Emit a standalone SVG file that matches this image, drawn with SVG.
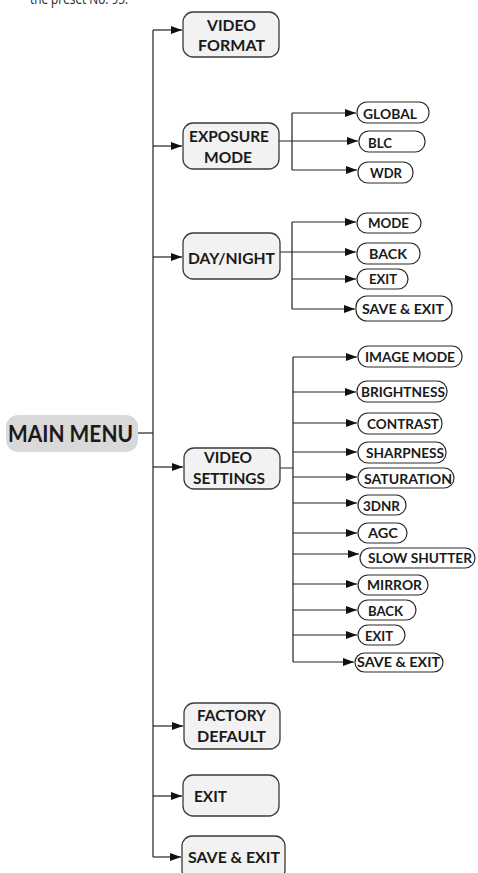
<svg xmlns="http://www.w3.org/2000/svg" width="478" height="873" viewBox="0 0 478 873">
<style>
.t{font-family:Lato,"Open Sans","Liberation Sans",sans-serif;font-weight:700;fill:#1a1a1a}
.m{font-size:16px}
.s{font-size:14px}
.c{text-anchor:middle}
.mb{fill:#f2f2f2;stroke:#3a3a3a;stroke-width:1.3}
.sb{fill:#ffffff;stroke:#2a2a2a;stroke-width:1.2}
.ln{fill:none;stroke:#222;stroke-width:1.2}
</style>
<defs>
<marker id="ah" markerUnits="userSpaceOnUse" markerWidth="11" markerHeight="8" refX="11" refY="4" orient="auto">
<path d="M0,0 L11,4 L0,8 z" fill="#111"/>
</marker>
</defs>
<rect width="478" height="873" fill="#ffffff"/>
<text x="30" y="4" font-family="'Open Sans','Noto Sans',sans-serif" font-size="15" fill="#222" textLength="98" lengthAdjust="spacingAndGlyphs">the preset No. 95.</text>

<g id="connectors">
<path class="ln" d="M153,30 V857"/>
<path class="ln" d="M138,433 H153"/>
<path class="ln" d="M153,30 H182" marker-end="url(#ah)"/>
<path class="ln" d="M153,146 H182" marker-end="url(#ah)"/>
<path class="ln" d="M153,257 H182" marker-end="url(#ah)"/>
<path class="ln" d="M153,467 H183" marker-end="url(#ah)"/>
<path class="ln" d="M153,726 H183" marker-end="url(#ah)"/>
<path class="ln" d="M153,796 H182" marker-end="url(#ah)"/>
<path class="ln" d="M153,857 H181" marker-end="url(#ah)"/>

<path class="ln" d="M279,141 H292 M292,113 V170"/>
<path class="ln" d="M292,113 H356" marker-end="url(#ah)"/>
<path class="ln" d="M292,141 H358" marker-end="url(#ah)"/>
<path class="ln" d="M292,170 H357" marker-end="url(#ah)"/>

<path class="ln" d="M280,252 H292 M292,222 V309"/>
<path class="ln" d="M292,222 H356" marker-end="url(#ah)"/>
<path class="ln" d="M292,252 H356" marker-end="url(#ah)"/>
<path class="ln" d="M292,279 H356" marker-end="url(#ah)"/>
<path class="ln" d="M292,309 H355" marker-end="url(#ah)"/>

<path class="ln" d="M280,468 H293 M293,357 V662"/>
<path class="ln" d="M293,357 H357" marker-end="url(#ah)"/>
<path class="ln" d="M293,392 H356" marker-end="url(#ah)"/>
<path class="ln" d="M293,423 H357" marker-end="url(#ah)"/>
<path class="ln" d="M293,452 H357" marker-end="url(#ah)"/>
<path class="ln" d="M293,477 H357" marker-end="url(#ah)"/>
<path class="ln" d="M293,503 H357" marker-end="url(#ah)"/>
<path class="ln" d="M293,533 H357" marker-end="url(#ah)"/>
<path class="ln" d="M293,554 H359" marker-end="url(#ah)"/>
<path class="ln" d="M293,584 H357" marker-end="url(#ah)"/>
<path class="ln" d="M293,610 H357" marker-end="url(#ah)"/>
<path class="ln" d="M293,635 H357" marker-end="url(#ah)"/>
<path class="ln" d="M293,662 H354" marker-end="url(#ah)"/>
</g>

<g id="main-menu">
<rect x="6" y="415" width="132" height="37" rx="12" fill="#d9d9d9"/>
<text class="t" x="8" y="442" font-size="22" textLength="125" lengthAdjust="spacingAndGlyphs">MAIN MENU</text>
</g>

<g id="video-format">
<rect class="mb" x="183" y="12" width="96" height="45" rx="10"/>
<text class="t m c" x="231.5" y="31" textLength="49" lengthAdjust="spacingAndGlyphs">VIDEO</text>
<text class="t m c" x="231.5" y="51" textLength="67" lengthAdjust="spacingAndGlyphs">FORMAT</text>
</g>
<g id="exposure-mode">
<rect class="mb" x="183" y="123" width="96" height="46" rx="10"/>
<text class="t m c" x="229" y="142" textLength="80" lengthAdjust="spacingAndGlyphs">EXPOSURE</text>
<text class="t m c" x="228" y="163" textLength="48" lengthAdjust="spacingAndGlyphs">MODE</text>
</g>
<g id="day-night">
<rect class="mb" x="183" y="233" width="97" height="46" rx="10"/>
<text class="t m c" x="231.5" y="264" textLength="87" lengthAdjust="spacingAndGlyphs">DAY/NIGHT</text>
</g>
<g id="video-settings">
<rect class="mb" x="184" y="448" width="96" height="41" rx="10"/>
<text class="t m c" x="228" y="463" textLength="48" lengthAdjust="spacingAndGlyphs">VIDEO</text>
<text class="t m c" x="229" y="484" textLength="72" lengthAdjust="spacingAndGlyphs">SETTINGS</text>
</g>
<g id="factory-default">
<rect class="mb" x="184" y="703" width="96" height="46" rx="10"/>
<text class="t m c" x="231.5" y="721" textLength="69" lengthAdjust="spacingAndGlyphs">FACTORY</text>
<text class="t m c" x="231.5" y="742" textLength="69" lengthAdjust="spacingAndGlyphs">DEFAULT</text>
</g>
<g id="exit-main">
<rect class="mb" x="183" y="775" width="96" height="41" rx="10"/>
<text class="t m" x="194" y="802" textLength="33" lengthAdjust="spacingAndGlyphs">EXIT</text>
</g>
<g id="save-exit-main">
<rect class="mb" x="182" y="836" width="103" height="44" rx="10"/>
<text class="t m" x="188" y="863" textLength="92" lengthAdjust="spacingAndGlyphs">SAVE &amp; EXIT</text>
</g>

<g id="exp-global">
<rect class="sb" x="357" y="102" width="72" height="21" rx="10"/>
<text class="t s c" x="390" y="119" textLength="54" lengthAdjust="spacingAndGlyphs">GLOBAL</text>
</g>
<g id="exp-blc">
<rect class="sb" x="359" y="131" width="66" height="21" rx="10"/>
<text class="t s" x="368" y="148" textLength="24" lengthAdjust="spacingAndGlyphs">BLC</text>
</g>
<g id="exp-wdr">
<rect class="sb" x="358" y="162" width="55" height="21" rx="10"/>
<text class="t s c" x="386" y="177.5" textLength="32" lengthAdjust="spacingAndGlyphs">WDR</text>
</g>

<g id="dn-mode">
<rect class="sb" x="357" y="213" width="64" height="20" rx="10"/>
<text class="t s c" x="388.5" y="228" textLength="41" lengthAdjust="spacingAndGlyphs">MODE</text>
</g>
<g id="dn-back">
<rect class="sb" x="357" y="243" width="63" height="21" rx="10"/>
<text class="t s c" x="388" y="258.5" textLength="38" lengthAdjust="spacingAndGlyphs">BACK</text>
</g>
<g id="dn-exit">
<rect class="sb" x="357" y="269" width="51" height="20" rx="10"/>
<text class="t s c" x="383" y="284" textLength="28" lengthAdjust="spacingAndGlyphs">EXIT</text>
</g>
<g id="dn-save-exit">
<rect class="sb" x="356" y="296" width="96" height="25" rx="11"/>
<text class="t s c" x="403" y="314" textLength="82" lengthAdjust="spacingAndGlyphs">SAVE &amp; EXIT</text>
</g>

<g id="vs-image-mode">
<rect class="sb" x="358" y="346" width="104" height="21" rx="10"/>
<text class="t s c" x="410" y="362" textLength="90" lengthAdjust="spacingAndGlyphs">IMAGE MODE</text>
</g>
<g id="vs-brightness">
<rect class="sb" x="357" y="381" width="90" height="21" rx="10"/>
<text class="t s c" x="403" y="397" textLength="84" lengthAdjust="spacingAndGlyphs">BRIGHTNESS</text>
</g>
<g id="vs-contrast">
<rect class="sb" x="358" y="413" width="84" height="21" rx="10"/>
<text class="t s c" x="403" y="428.5" textLength="72" lengthAdjust="spacingAndGlyphs">CONTRAST</text>
</g>
<g id="vs-sharpness">
<rect class="sb" x="358" y="442" width="88" height="21" rx="10"/>
<text class="t s c" x="405" y="457.5" textLength="78" lengthAdjust="spacingAndGlyphs">SHARPNESS</text>
</g>
<g id="vs-saturation">
<rect class="sb" x="358" y="468" width="96" height="20" rx="10"/>
<text class="t s c" x="408" y="484" textLength="88" lengthAdjust="spacingAndGlyphs">SATURATION</text>
</g>
<g id="vs-3dnr">
<rect class="sb" x="358" y="495" width="48" height="20" rx="10"/>
<text class="t s c" x="381.5" y="510.5" textLength="37" lengthAdjust="spacingAndGlyphs">3DNR</text>
</g>
<g id="vs-agc">
<rect class="sb" x="358" y="523" width="49" height="20" rx="10"/>
<text class="t s c" x="383" y="538" textLength="30" lengthAdjust="spacingAndGlyphs">AGC</text>
</g>
<g id="vs-slow-shutter">
<rect class="sb" x="360" y="548" width="115" height="20" rx="10"/>
<text class="t s c" x="420" y="563" textLength="104" lengthAdjust="spacingAndGlyphs">SLOW SHUTTER</text>
</g>
<g id="vs-mirror">
<rect class="sb" x="358" y="575" width="70" height="20" rx="10"/>
<text class="t s c" x="394.5" y="590" textLength="55" lengthAdjust="spacingAndGlyphs">MIRROR</text>
</g>
<g id="vs-back">
<rect class="sb" x="358" y="600" width="58" height="20" rx="10"/>
<text class="t s c" x="385.5" y="615.5" textLength="35" lengthAdjust="spacingAndGlyphs">BACK</text>
</g>
<g id="vs-exit">
<rect class="sb" x="358" y="625" width="47" height="20" rx="10"/>
<text class="t s c" x="379" y="641" textLength="28" lengthAdjust="spacingAndGlyphs">EXIT</text>
</g>
<g id="vs-save-exit">
<rect class="sb" x="355" y="653" width="88" height="19" rx="9.5"/>
<text class="t s c" x="398.5" y="667" textLength="83" lengthAdjust="spacingAndGlyphs">SAVE &amp; EXIT</text>
</g>
</svg>
